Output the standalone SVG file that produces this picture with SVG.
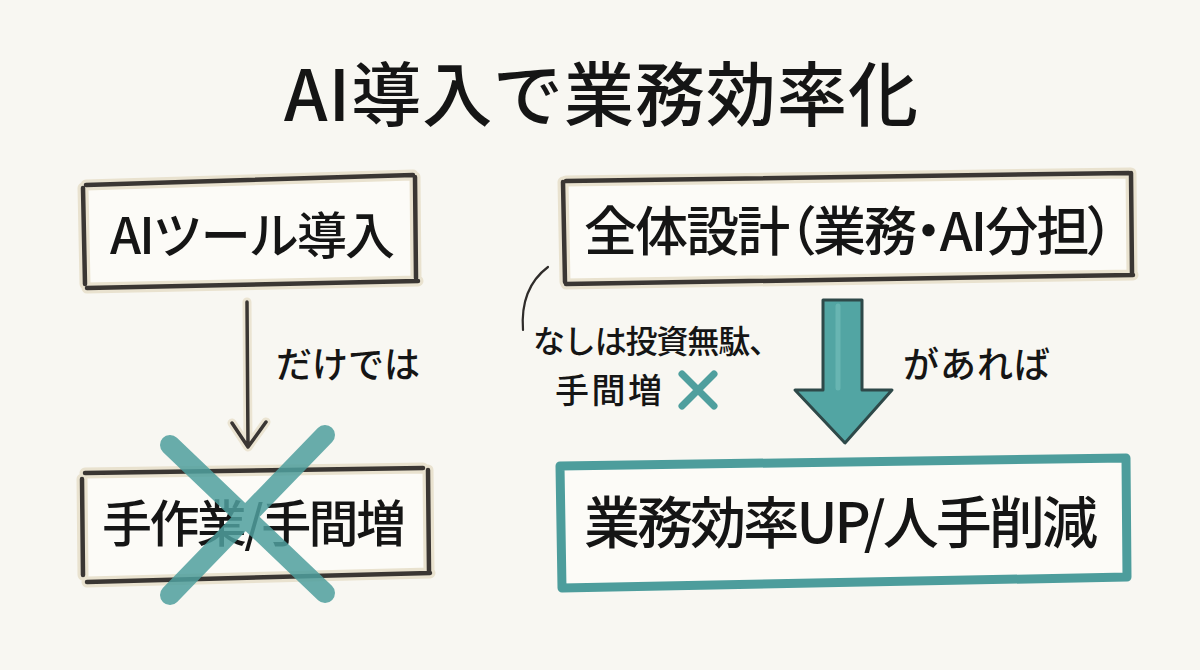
<svg xmlns="http://www.w3.org/2000/svg" width="1200" height="670" viewBox="0 0 1200 670">
  <defs>
    <style>
      .t { font-family: "Noto Sans CJK JP", "Noto Sans", sans-serif; font-weight: 500; fill: #151515; dominant-baseline: central; }
      .palt { font-feature-settings: "palt" 1; }
      .halo { fill: none; stroke: #e9e2cf; stroke-width: 11; stroke-linecap: round; }
      .ink { fill: none; stroke: #3a3633; stroke-width: 4.5; stroke-linecap: round; }
      .boxfill { fill: #fcfbf7; stroke: none; }
      .teal { fill: none; stroke: #4f9f9e; stroke-linecap: round; }
    </style>
  </defs>
  <rect width="1200" height="670" fill="#f8f7f2"/>

  <text id="title" class="t" x="284" y="90" font-size="70" textLength="634">AI導入で業務効率化</text>

  <g id="node-ai-tool">
    <polygon class="boxfill" points="85,185 414,176 416,280 86,287"/>
    <path class="halo" d="M86,185 L413,175 M83,188 L85,284 M415,177 L416,278 M87,288 L418,281"/>
    <path class="ink" d="M86,185 L413,175 M83,188 L85,284 M415,177 L416,278 M87,288 L418,281"/>
    <text class="t" x="110" y="232" font-size="50" textLength="285">AIツール導入</text>
  </g>

  <g id="node-design">
    <polygon class="boxfill" points="565,181 1130,173 1132,274 566,284"/>
    <path class="halo" d="M566,181 L1129,173 M563,182 L565,282 M1131,173 L1132,273 M566,284 L1133,275"/>
    <path class="ink" d="M566,181 L1129,173 M563,182 L565,282 M1131,173 L1132,273 M566,284 L1133,275"/>
    <text class="t palt" x="584" y="228" font-size="53" textLength="530">全体設計（業務・AI分担）</text>
  </g>

  <g id="node-manual">
    <polygon class="boxfill" points="84,473 427,468 429,572 86,581"/>
    <path class="halo" d="M85,473 L423,468 M82,479 L83,575 M428,470 L429,572 M87,582 L430,573"/>
    <path class="ink" d="M85,473 L423,468 M82,479 L83,575 M428,470 L429,572 M87,582 L430,573"/>
    <text class="t" x="102" y="520" font-size="50" textLength="304">手作業/手間増</text>
    <g id="cross-big" opacity="0.85">
      <path class="teal" stroke-width="20" d="M170,445 L325,593 M325,435 L170,595"/>
    </g>
  </g>

  <g id="node-result">
    <path d="M560,466 L1126,458 L1127,577 L562,588 Z" fill="#fcfbf7" stroke="#4d9d9c" stroke-width="9" stroke-linejoin="round"/>
    <text class="t" x="584" y="518" font-size="56" textLength="514">業務効率UP/人手削減</text>
  </g>

  <g id="connectors">
    <g id="arrow-left">
      <path d="M247,302 L248,446 M232,423 L248,447 L266,422" fill="none" stroke="#ebe4d2" stroke-width="9" stroke-linecap="round" stroke-linejoin="round"/>
      <path d="M247,302 L248,446 M232,423 L248,447 L266,422" fill="none" stroke="#3a3633" stroke-width="3.5" stroke-linecap="round" stroke-linejoin="round"/>
      <text class="t" x="276" y="362" font-size="36" textLength="144">だけでは</text>
    </g>
    <g id="arrow-big">
      <path d="M823,300 L862,300 L862,390 L892,390 L845,443 L795,390 L823,390 Z" fill="#52a5a3" stroke="#2e4949" stroke-width="3" stroke-linejoin="round"/>
      <path d="M838,306 L838,388" stroke="#72bdb9" stroke-width="5" stroke-linecap="round" opacity="0.7"/>
      <text class="t" x="903" y="362" font-size="36" textLength="147">があれば</text>
    </g>
    <g id="annotation">
      <path d="M548,267 Q520,288 523,330" fill="none" stroke="#2f2c2a" stroke-width="2.2" stroke-linecap="round"/>
      <text class="t" x="533" y="339" font-size="32" textLength="248">なしは投資無駄、</text>
      <text class="t" x="555" y="388" font-size="34" textLength="107">手間増</text>
      <path class="teal" stroke-width="7" d="M682,374 L714,406 M714,374 L682,406"/>
    </g>
  </g>
</svg>
